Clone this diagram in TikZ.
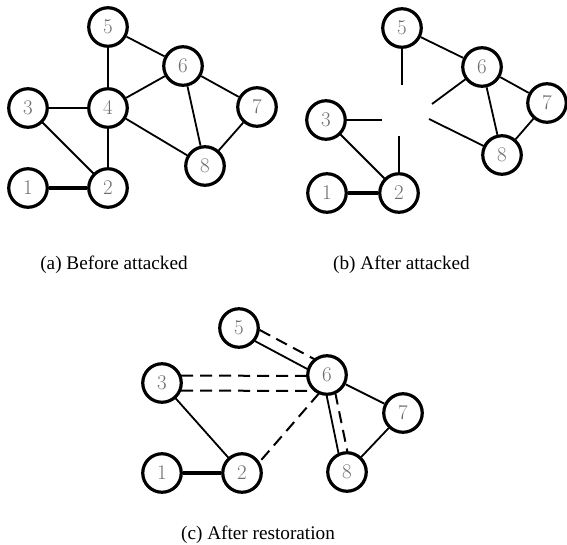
\documentclass[tikz,border=0pt]{standalone}
\usepackage{fontspec}
\newfontfamily\capfont{Liberation Serif}
\usetikzlibrary{calc}
\pgfdeclarelayer{background}
\pgfsetlayers{background,main}
\definecolor{digitgray}{RGB}{110,110,110}
\tikzset{
  vtx/.style={circle, draw=black, fill=white, line width=3.2bp, minimum size=38.5bp, inner sep=0pt,
    text=digitgray, font=\fontsize{21}{21}\selectfont},
  edge/.style={line width=1.8bp, black},
  heavy/.style={line width=3.4bp, black},
  dashedge/.style={line width=2bp, black, dash pattern=on 12bp off 7bp},
  caption/.style={anchor=base, font=\capfont\fontsize{19.3}{22}\selectfont}
}
\begin{document}
\begin{tikzpicture}[x=1bp,y=-1bp]
\path[use as bounding box] (0,0) rectangle (567,545);

% ---------- (a) Before attacked ----------
\node[vtx] (a5) at (108,27) {5};
\node[vtx] (a6) at (183,66) {6};
\node[vtx] (a3) at (28,108) {3};
\node[vtx] (a4) at (108,108) {4};
\node[vtx] (a7) at (257,107) {7};
\node[vtx] (a8) at (205,166) {8};
\node[vtx] (a1) at (28,188) {1};
\node[vtx] (a2) at (108,188) {2};
\begin{pgfonlayer}{background}
\draw[edge] (a5) -- (a4);
\draw[edge] (a5) -- (a6);
\draw[edge] (a3) -- (a4);
\draw[edge] (a4) -- (a6);
\draw[edge] (a4) -- (a8);
\draw[edge] (a4) -- (a2);
\draw[edge] (a3) -- (a2);
\draw[edge] (a6) -- (a8);
\draw[edge] (a6) -- (a7);
\draw[edge] (a7) -- (a8);
\draw[heavy] (a1) -- (a2);
\end{pgfonlayer}
\node[caption] (capa) at (114,269) {(a) Before attacked};

% ---------- (b) After attacked ----------
\node[vtx] (b5) at (402,28) {5};
\node[vtx] (b6) at (482,67) {6};
\node[vtx] (b7) at (547,103) {7};
\node[vtx] (b3) at (326,120) {3};
\node[vtx] (b8) at (502,155) {8};
\node[vtx] (b1) at (327,193) {1};
\node[vtx] (b2) at (399,193) {2};
\coordinate (e5) at (402,85);
\coordinate (e3) at (382,120);
\coordinate (e2) at (399,136);
\coordinate (e6) at (432,104);
\coordinate (e8) at (429,119);
\begin{pgfonlayer}{background}
\draw[edge] (b5) -- (b6);
\draw[edge] (b6) -- (b7);
\draw[edge] (b6) -- (b8);
\draw[edge] (b7) -- (b8);
\draw[edge] (b3) -- (b2);
\draw[heavy] (b1) -- (b2);
\draw[edge] (b5.center) -- (e5);
\draw[edge] (b3.center) -- (e3);
\draw[edge] (b2.center) -- (e2);
\draw[edge] (b6.center) -- (e6);
\draw[edge] (b8.center) -- (e8);
\end{pgfonlayer}
\node[caption] (capb) at (401.5,269) {(b) After attacked};

% ---------- (c) After restoration ----------
\node[vtx] (c5) at (239,328) {5};
\node[vtx] (c6) at (327,375) {6};
\node[vtx] (c3) at (162,383) {3};
\node[vtx] (c7) at (403,413) {7};
\node[vtx] (c1) at (162,473) {1};
\node[vtx] (c2) at (242,473) {2};
\node[vtx] (c8) at (347,472) {8};
\begin{pgfonlayer}{background}
% 5 -- 6 : solid and dashed
\draw[edge] ($(c5)!4bp!-90:(c6)$) -- ($(c6)!4bp!90:(c5)$);
\draw[dashedge] ($(c5)!8bp!90:(c6)$) -- ($(c6)!8bp!-90:(c5)$);
% 3 -- 6 : two dashed
\draw[dashedge] ($(c3.center)+(0,-7.5)$) -- ($(c6.center)+(0,1)$);
\draw[dashedge] ($(c3.center)+(0,7.5)$) -- ($(c6.center)+(0,16)$);
% 6 -- 2 : dashed
\draw[dashedge] ($(c6)!6bp!90:(c2)$) -- ($(c2)!6bp!-90:(c6)$);
% 6 -- 8 : solid and dashed
\draw[edge] ($(c6)!4.5bp!-90:(c8)$) -- ($(c8)!4.5bp!90:(c6)$);
\draw[dashedge] ($(c6)!4.5bp!90:(c8)$) -- ($(c8)!4.5bp!-90:(c6)$);
\draw[edge] (c6) -- (c7);
\draw[edge] (c7) -- (c8);
\draw[edge] (c3) -- (c2);
\draw[heavy] (c1) -- (c2);
\end{pgfonlayer}
\node[caption] (capc) at (258,539) {(c) After restoration};
\end{tikzpicture}
\end{document}
